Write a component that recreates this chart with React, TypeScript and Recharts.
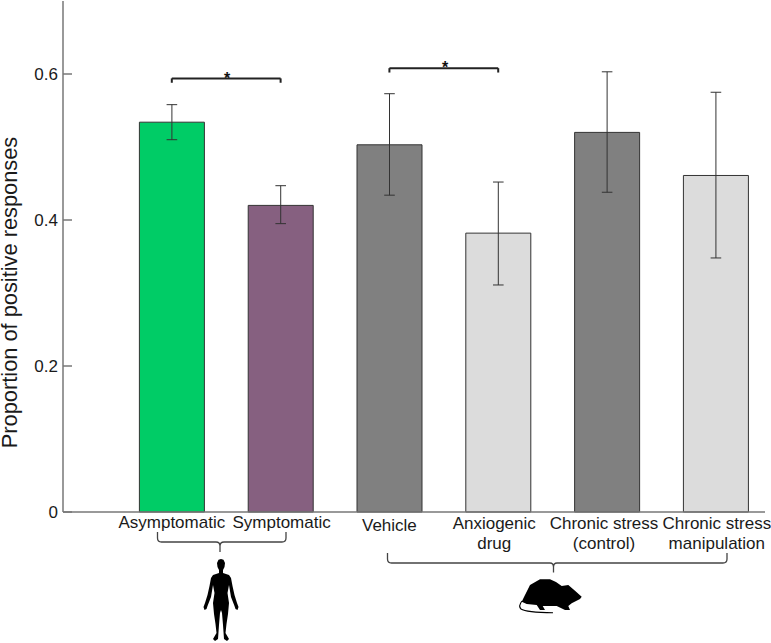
import { Bar, BarChart, Cell, ErrorBar, ReferenceLine, XAxis, YAxis } from "recharts";

const positions = [1, 2, 3, 4, 5, 6];
const means = [0.534, 0.42, 0.503, 0.382, 0.52, 0.461];
const lower = [0.51, 0.395, 0.434, 0.311, 0.438, 0.348];
const upper = [0.558, 0.447, 0.573, 0.452, 0.603, 0.575];
const fills = ["#00cc66", "#866080", "#808080", "#dcdcdc", "#808080", "#dcdcdc"];
const labels = [
  ["Asymptomatic"],
  ["Symptomatic"],
  ["Vehicle"],
  ["Anxiogenic", "drug"],
  ["Chronic stress", "(control)"],
  ["Chronic stress", "manipulation"],
];
const yTicks = [0, 0.2, 0.4, 0.6];

const data = positions.map((pos, i) => ({
  pos,
  mean: means[i],
  err: [means[i] - lower[i], upper[i] - means[i]],
}));

const FONT = "'Liberation Sans', Arial, sans-serif";
// small nudges, the labels in the figure are hand placed
const labelDx = [0, 1, 0, -4, -3, 1];
const labelDy = [0, 0, 3, 1, 1, 1];

function CategoryTick({ x, y, payload }: any) {
  const i = positions.indexOf(payload.value);
  if (i < 0) return null;
  return (
    <text x={x + labelDx[i]} y={y + labelDy[i]} textAnchor="middle" fontSize={17} fontFamily={FONT} fill="#1a1a1a">
      {labels[i].map((line, k) => (
        <tspan key={k} x={x + labelDx[i]} dy={k === 0 ? 8 : 19.5}>
          {line}
        </tspan>
      ))}
    </text>
  );
}

const humanHalf =
  "M221 559 L223.5 559.8 L225 563 L224.5 567 L223 570 L223 573 L229 575 L231 578 L232.5 586 L234.5 595 L237 603 L238.5 607 L237.5 610 L235.5 609 L234.5 606 L231 597 L229 585 L227.5 593 L229 603 L228 614 L226.5 624 L225.5 633 L229 639 L227 641 L224 639 L223 625 L222 613 L221 610 Z";
const rat =
  "M581.7 596.7 L575 590.7 L568.3 585 L561.7 586 L556 582 L550 579.3 L540 579.3 L530 585 L525 595 L521.7 601.7 L526.7 604 L536.7 605 L540 610 L545 610 L542.7 606 L556.7 606 L565 610 L570 610 L568.3 606 L571.7 603.3 L580 599 Z";

function Brace({ d }: { d: string }) {
  return <path d={d} fill="none" stroke="#444" strokeWidth={1.3} />;
}

export default function App() {
  return (
    <div style={{ position: "absolute", left: 0, top: 0, width: 771, height: 643, background: "#fff" }}>
      <BarChart width={771} height={643} data={data} margin={{ top: 1, right: 6, bottom: 0, left: 0 }}>
        <XAxis
          dataKey="pos"
          type="number"
          domain={[0, 6.452]}
          ticks={positions}
          interval={0}
          height={131}
          tick={<CategoryTick />}
          tickLine={false}
          axisLine={{ stroke: "#777", strokeWidth: 1.5 }}
        />
        <YAxis
          type="number"
          domain={[0, 0.7]}
          ticks={yTicks}
          width={63}
          tickSize={-9}
          tickMargin={14}
          tickFormatter={(v) => (v === 0 ? "0" : v.toFixed(1))}
          tick={{ fontSize: 17, fill: "#1a1a1a", fontFamily: FONT }}
          tickLine={{ stroke: "#777", strokeWidth: 1.5 }}
          axisLine={{ stroke: "#777", strokeWidth: 1.5 }}
        />
        <Bar dataKey="mean" barSize={65} stroke="#333" strokeWidth={1} isAnimationActive={false}>
          {fills.map((f, i) => (
            <Cell key={i} fill={f} />
          ))}
          <ErrorBar dataKey="err" width={5.3} stroke="#333" strokeWidth={1} isAnimationActive={false} />
        </Bar>
        <ReferenceLine segment={[{ x: 1, y: 0.594 }, { x: 2, y: 0.594 }]} stroke="#222" strokeWidth={2} />
        <ReferenceLine segment={[{ x: 1, y: 0.594 }, { x: 1, y: 0.588 }]} stroke="#222" strokeWidth={2} />
        <ReferenceLine segment={[{ x: 2, y: 0.594 }, { x: 2, y: 0.588 }]} stroke="#222" strokeWidth={2} />
        <ReferenceLine segment={[{ x: 3, y: 0.608 }, { x: 4, y: 0.608 }]} stroke="#222" strokeWidth={2} />
        <ReferenceLine segment={[{ x: 3, y: 0.608 }, { x: 3, y: 0.602 }]} stroke="#222" strokeWidth={2} />
        <ReferenceLine segment={[{ x: 4, y: 0.608 }, { x: 4, y: 0.602 }]} stroke="#222" strokeWidth={2} />
        <text x={227} y={84} textAnchor="middle" fontSize={16} fontWeight="bold" fontFamily={FONT} fill="#111">*</text>
        <text x={445} y={73} textAnchor="middle" fontSize={16} fontWeight="bold" fontFamily={FONT} fill="#111">*</text>
        <text
          transform="translate(17 292.5) rotate(-90)"
          textAnchor="middle"
          fontSize={21.8}
          fontFamily={FONT}
          fill="#1a1a1a"
        >
          Proportion of positive responses
        </text>
        <Brace d="M157.5 532 L157.5 538 Q157.5 542 161.5 542 L216 542 Q220 542 220 546 L220 552 M220 546 Q220 542 224 542 L282 542 Q286 542 286 538 L286 532" />
        <Brace d="M387.5 553 L387.5 559 Q387.5 563 391.5 563 L550 563 Q553.5 563 553.5 567 L553.5 572.5 M553.5 567 Q553.5 563 557 563 L723 563 Q727 563 727 559 L727 553" />
        <path d={humanHalf} fill="#000" />
        <path d={humanHalf} fill="#000" transform="translate(442 0) scale(-1 1)" />
        <path d={rat} fill="#000" />
        <path d="M522 601 Q518 606 521 609 Q526 612.5 553 612.7" fill="none" stroke="#000" strokeWidth={1.1} />
      </BarChart>
    </div>
  );
}
